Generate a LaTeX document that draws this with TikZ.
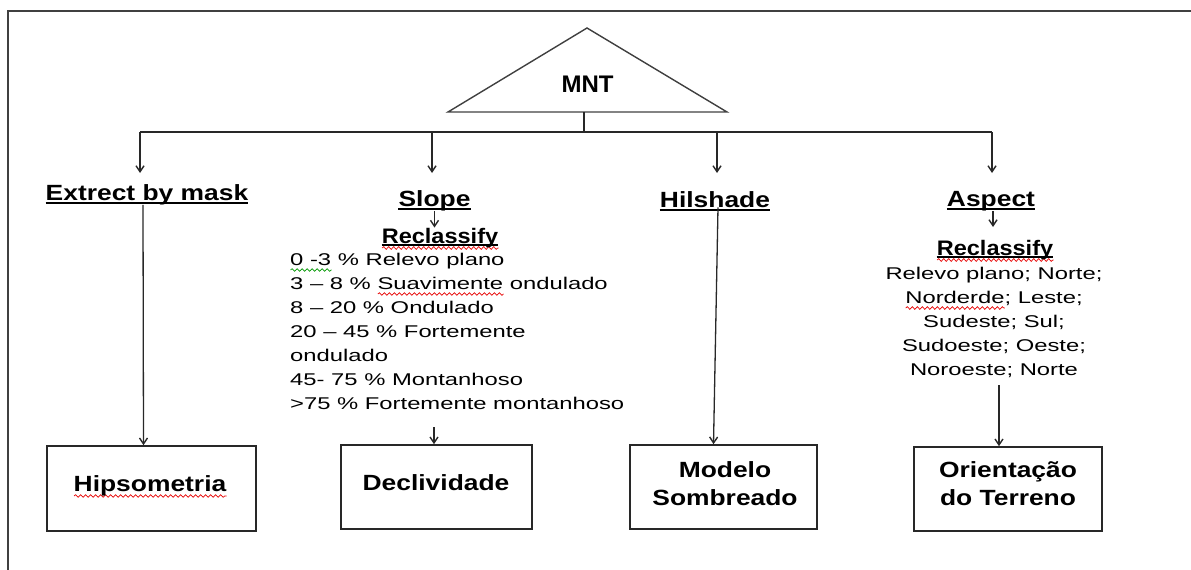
\documentclass[tikz,border=0pt]{standalone}
\usepackage{fontspec}
\usetikzlibrary{arrows.meta,decorations.pathmorphing}
\setmainfont{Liberation Sans}
\newfontfamily\fntR{Liberation Sans}[FakeStretch=1.4]
\newfontfamily\fntB{Liberation Sans}[FakeStretch=1.2]
\newfontfamily\fntC{Liberation Sans}[FakeStretch=1.12]
\newfontfamily\fntM{Liberation Sans}
\definecolor{spellred}{RGB}{230,0,0}
\definecolor{spellgreen}{RGB}{0,150,0}
\definecolor{ink}{RGB}{40,40,40}
\newsavebox\wvbox
\newlength\wvlen
\newcommand\wv[2]{\sbox\wvbox{#2}\setlength\wvlen{\wd\wvbox}%
\rlap{\tikz[baseline=0pt,x=1pt,y=1pt]\draw[#1,line width=0.7pt,decorate,decoration={snake,amplitude=1.3pt,segment length=5pt}] (0pt,-5pt) -- (\wvlen,-5pt);}\usebox\wvbox}
\begin{document}
\begin{tikzpicture}[x=1pt,y=-1pt,
  line/.style={draw=ink, line width=1.3pt},
  arr/.style={line, -{Straight Barb[length=6pt,width=8pt,line width=1.4pt]}},
  ul/.style={draw=black, line width=1.5pt},
  lbl/.style={anchor=base, inner sep=0pt, font=\fntB\bfseries\fontsize{22}{26}\selectfont},
  rlbl/.style={anchor=base, inner sep=0pt, font=\fntC\bfseries\fontsize{21}{24}\selectfont},
  btxt/.style={anchor=base, inner sep=0pt, align=center, font=\fntB\bfseries\fontsize{22}{28}\selectfont},
  list/.style={inner sep=0pt, font=\fntR\fontsize{17}{24}\selectfont},
  outbox/.style={draw=ink, line width=1.6pt, inner sep=0pt}
]
\useasboundingbox (0,0) rectangle (1191,570);
\clip (0,0) rectangle (1191,570);
% frame
\draw[draw=black!75, line width=2.2pt] (1200,11) -- (8,11) -- (8,590);
% triangle MNT
\coordinate (apex) at (587,28);
\coordinate (tl) at (448,112);
\coordinate (tr) at (727,112);
\draw[draw=black!75, line width=1.4pt, line join=miter] (tl) -- (apex) -- (tr) -- cycle;
\node[anchor=base, inner sep=0pt, font=\fntM\bfseries\fontsize{24}{28}\selectfont] (mnt) at (587.5,92) {MNT};
% bus
\coordinate (stem) at (584,112);
\coordinate (busc) at (584,132);
\coordinate (b1) at (140,132);
\coordinate (b2) at (432,132);
\coordinate (b3) at (717,132);
\coordinate (b4) at (992,132);
\draw[line] (stem) -- (busc);
\draw[line] (b1) -- (b4);
\coordinate (t1) at (140,173);
\coordinate (t2) at (432,173);
\coordinate (t3) at (717,173);
\coordinate (t4) at (992,173);
\draw[arr] (b1) -- (t1);
\draw[arr] (b2) -- (t2);
\draw[arr] (b3) -- (t3);
\draw[arr] (b4) -- (t4);
% labels
\node[lbl] (extract) at (147,200) {Extrect by mask};
\node[lbl] (slope) at (434.5,206) {Slope};
\node[lbl] (hil) at (715,207) {Hilshade};
\node[lbl] (asp) at (991,206) {Aspect};
\foreach \n in {extract,slope,hil,asp}{
  \draw[ul] ([yshift=-3pt]\n.base west) -- ([yshift=-3pt]\n.base east);
}
% slope branch
\node[rlbl] (recl1) at (440,243) {\wv{spellred}{Reclassify}};
\draw[ul] ([yshift=-2pt]recl1.base west) -- ([yshift=-2pt]recl1.base east);
\draw[arr] (slope.south) -- (slope.south |- recl1.north);
\node[list, anchor=base west, align=left] (slopelist) at (290,409) {%
\wv{spellgreen}{0 -3} \% Relevo plano\\
3 – 8 \% \wv{spellred}{Suavimente} ondulado\\
8 – 20 \% Ondulado\\
20 – 45 \% Fortemente\\
ondulado\\
45- 75 \% Montanhoso\\
>75 \% Fortemente montanhoso};
% aspect branch
\coordinate (a2) at (993,227);
\draw[arr] ([xshift=2pt]asp.south) -- (a2);
\node[rlbl] (recl2) at (995,255) {\wv{spellred}{Reclassify}};
\draw[ul] ([yshift=-2pt]recl2.base west) -- ([yshift=-2pt]recl2.base east);
\node[list, anchor=base, align=center] (asplist) at (994,375) {%
Relevo plano; Norte;\\
\wv{spellred}{Norderde}; Leste;\\
Sudeste; Sul;\\
Sudoeste; Oeste;\\
Noroeste; Norte};
% output boxes
\node[outbox, minimum width=209pt, minimum height=85pt] (hipbox) at (151.5,488.5) {};
\node[outbox, minimum width=191pt, minimum height=84pt] (declbox) at (436.5,487) {};
\node[outbox, minimum width=187pt, minimum height=84pt] (modbox) at (723.5,487) {};
\node[outbox, minimum width=188pt, minimum height=84pt] (oribox) at (1008,489) {};
\node[btxt] (hiptxt) at (150,491) {\wv{spellred}{Hipsometria}};
\node[btxt] (decltxt) at (436,490) {Declividade};
\node[btxt] (modtxt) at (725,505) {Modelo\\Sombreado};
\node[btxt] (oritxt) at (1008,505) {Orientação\\do Terreno};
% connectors to boxes
\draw[arr] ([xshift=-4pt]extract.south) -- ([xshift=-8pt]hipbox.north);
\coordinate (d1) at (434,427);
\draw[arr] (d1) -- (d1 |- declbox.north);
\draw[arr] ([xshift=3pt]hil.south) -- ([xshift=-10pt]modbox.north);
\coordinate (o1) at (999,385);
\draw[arr] (o1) -- (o1 |- oribox.north);
\end{tikzpicture}
\end{document}
